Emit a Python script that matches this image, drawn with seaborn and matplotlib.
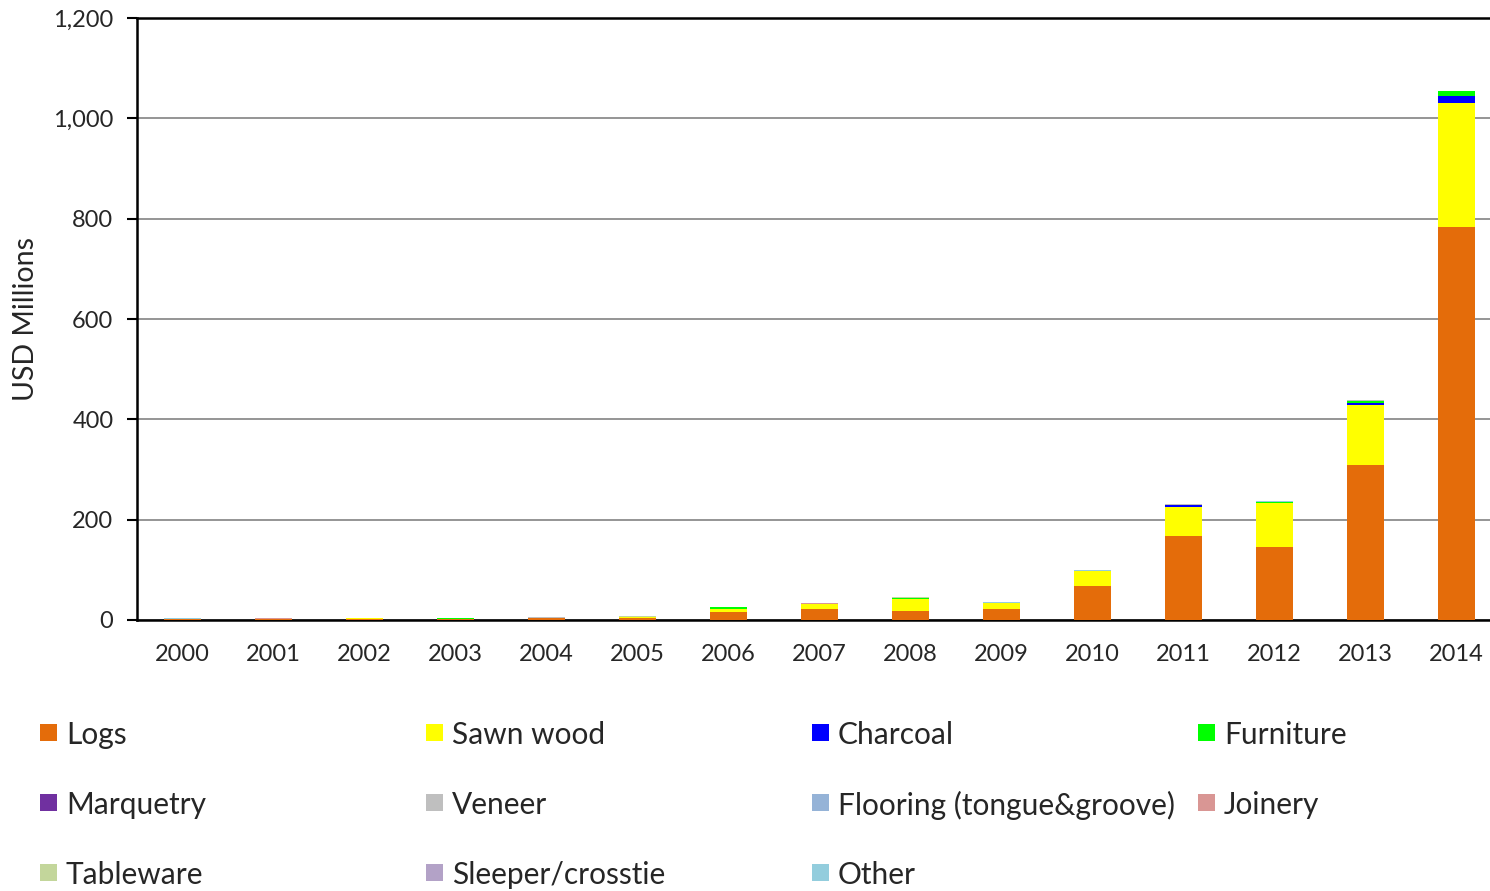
import matplotlib
matplotlib.use("Agg")
import matplotlib.pyplot as plt
import matplotlib.patches as mpatches
import seaborn as sns
import numpy as np
import pandas as pd

years = [str(y) for y in range(2000, 2015)]
products = ["Logs", "Sawn wood", "Charcoal", "Furniture", "Marquetry", "Veneer",
            "Flooring (tongue&groove)", "Joinery", "Tableware", "Sleeper/crosstie", "Other"]
colors = ["#E46C0A", "#FFFF00", "#0000FF", "#00FF00", "#7030A0", "#BFBFBF",
          "#95B3D7", "#D99694", "#C3D69B", "#B3A2C7", "#93CDDD"]

# USD millions
logs      = [1, 2, 2, 2, 4, 4, 16, 21, 18, 22, 68, 168, 146, 308, 784]
sawn_wood = [1, 0, 1, 0, 0, 1, 6, 10, 24, 12, 29, 58, 87, 120, 246]
charcoal  = [0, 0, 0, 0, 0, 0, 0, 0, 0, 0, 0, 3, 0, 5, 15]
furniture = [0, 0, 0, 1, 0, 0, 3, 0, 1, 0, 0, 0, 2, 3, 9]
marquetry = [0, 0, 0, 0, 0, 0, 0, 0, 0, 0, 0, 0, 0, 0, 0]
veneer    = [0, 0, 0, 0, 1, 1, 0, 0, 0, 0, 0, 3, 0, 2, 1]
flooring  = [0, 0, 0, 0, 0, 0, 0, 0, 0, 0, 1, 0, 0, 0, 0]
joinery   = [0, 1, 0, 0, 1, 0, 0, 2, 0, 0, 0, 0, 0, 0, 0]
tableware = [0, 0, 1, 1, 0, 1, 0, 0, 2, 0, 0, 0, 1, 0, 0]
sleeper   = [0, 0, 0, 0, 0, 0, 0, 0, 0, 0, 0, 0, 0, 0, 0]
other     = [1, 0, 0, 0, 0, 0, 1, 1, 1, 2, 1, 0, 1, 0, 0]

series = [logs, sawn_wood, charcoal, furniture, marquetry, veneer,
          flooring, joinery, tableware, sleeper, other]

df = pd.DataFrame(dict(zip(products, series)), index=years)
cum = df.cumsum(axis=1)

sns.set_style("white")
plt.rcParams['font.family'] = ['Lato', 'DejaVu Sans']

W, H = 1490, 891
fig = plt.figure(figsize=(W / 100, H / 100), dpi=100)
ax = fig.add_axes([137/W, 1 - 620/H, 1365/W, 602/H])

# stacked bars: draw cumulative totals from the top layer down
for name, col in reversed(list(zip(products, colors))):
    sns.barplot(x=years, y=cum[name].values, color=col, width=0.4,
                saturation=1, ax=ax, zorder=3, linewidth=0)

ax.set_xlim(-0.5, 14.5)
ax.set_ylim(0, 1200)
ax.set_yticks(range(0, 1201, 200))
ax.set_yticklabels([f"{v:,}" for v in range(0, 1201, 200)], fontsize=17)
ax.yaxis.grid(True, color="#8c8c8c", linewidth=1.3, zorder=0)
ax.set_xticks(range(15))
ax.set_xticklabels(years, fontsize=17)
ax.set_xticks(np.arange(-0.5, 15, 1), minor=True)
ax.tick_params(axis="x", which="major", length=0, pad=17)
ax.tick_params(axis="x", which="minor", length=7, width=1.5, color="black", direction="out")
ax.tick_params(axis="y", length=7, width=1.5, color="black", direction="out", left=True, pad=10)
for s in ["left", "bottom", "top"]:
    ax.spines[s].set_visible(True)
    ax.spines[s].set_color("black")
    ax.spines[s].set_linewidth(1.8)
ax.spines["right"].set_visible(False)
ax.set_xlabel("")
ax.set_ylabel("USD Millions", fontsize=20.5, labelpad=10)

# legend laid out row by row in four fixed columns
col_x = [40, 426, 812, 1198]
row_y = [733, 803, 873]
for i, (p, c) in enumerate(zip(products, colors)):
    x = col_x[i % 4]
    y = row_y[i // 4]
    fig.patches.append(mpatches.Rectangle((x / W, 1 - (y + 8) / H), 17 / W, 17 / H,
                                          facecolor=c, edgecolor="none",
                                          transform=fig.transFigure, figure=fig))
    fig.text((x + 26) / W, 1 - (y + 2) / H, p, fontsize=21.5, va="center", ha="left")

fig.savefig("out.png", dpi=100)
